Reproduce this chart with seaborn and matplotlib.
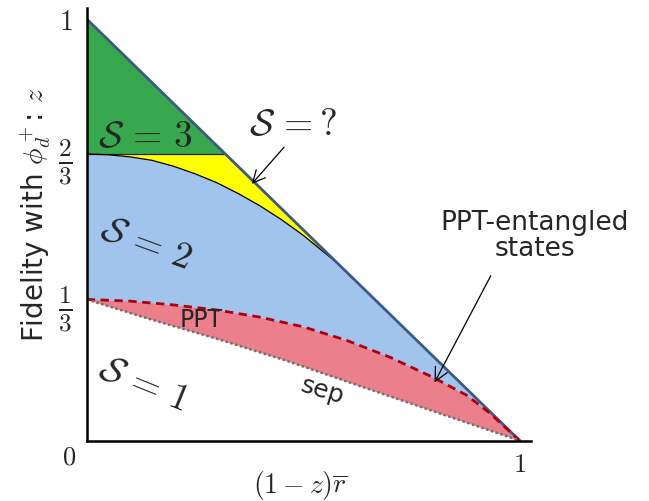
import numpy as np
import matplotlib.pyplot as plt
import seaborn as sns

# boundaries (x = (1-z)*rbar, z = fidelity)
diag_x = [0.0, 1.0]
diag_z = [1.0, 0.0]
s3_level = 0.68

s2_x = [0.0, 0.05, 0.1, 0.15, 0.2, 0.25, 0.3, 0.35, 0.4, 0.45, 0.5, 0.55, 0.578, 1.0]
s2_z = [0.68, 0.678, 0.673, 0.665, 0.651, 0.633, 0.612, 0.586, 0.557, 0.524, 0.487, 0.445, 0.422, 0.0]

ppt_x = [0.0, 0.1, 0.2, 0.3, 0.4, 0.5, 0.6, 0.7, 0.8, 0.877, 0.93, 0.97, 1.0]
ppt_z = [0.335, 0.331, 0.322, 0.31, 0.293, 0.27, 0.238, 0.198, 0.15, 0.108, 0.066, 0.028, 0.0]

sep_x = [0.0, 0.15, 0.3, 0.46, 0.63, 0.8, 1.0]
sep_z = [0.335, 0.287, 0.242, 0.19, 0.13, 0.07, 0.0]

ytick_pos = [1/3, s3_level, 1.0]
ytick_lab = [r'$\frac{1}{3}$', r'$\frac{2}{3}$', r'$1$']

sns.set_style('white')
plt.rcParams['font.family'] = ['DejaVu Sans']
plt.rcParams['mathtext.fontset'] = 'cm'

fig = plt.figure(figsize=(6.49, 5.01), dpi=100)
ax = fig.add_axes([0.1336, 0.1204, 0.684, 0.8627])

# filled regions, painted back to front
ax.fill_between(diag_x, 0, diag_z, color='#ffff00', lw=0)
ax.fill_between(diag_x, s3_level, diag_z, where=[True, False], interpolate=True,
                color='#38a84e', lw=0)
ax.fill_between(s2_x, 0, s2_z, color='#a0c4ec', lw=0)
ax.fill_between(ppt_x, 0, ppt_z, color='#ec7f8c', lw=0)
ax.fill_between(sep_x, 0, sep_z, color='white', lw=0)

# boundary lines
ax.plot([0, 1 - s3_level], [s3_level, s3_level], color='#222222', lw=0.9)
sns.lineplot(x=s2_x[:-1], y=s2_z[:-1], ax=ax, color='black', lw=0.9, sort=False)
sns.lineplot(x=diag_x, y=diag_z, ax=ax, color='#3d5a80', lw=2, sort=False)
sns.lineplot(x=ppt_x, y=ppt_z, ax=ax, color='#b00010', lw=2, linestyle=(0, (3, 2)), sort=False)
sns.lineplot(x=sep_x, y=sep_z, ax=ax, color='#707070', lw=1.8, linestyle=(0, (1, 1)), sort=False)

ax.set_xlim(0, 1.025)
ax.set_ylim(0, 1.025)
for s in ['top', 'right']:
    ax.spines[s].set_visible(False)
for s in ['left', 'bottom']:
    ax.spines[s].set_linewidth(1.8)
    ax.spines[s].set_color('black')

ax.set_xticks([1.0])
ax.set_xticklabels([r'$1$'], fontsize=19)
ax.set_yticks(ytick_pos)
ax.set_yticklabels(ytick_lab, fontsize=20)
for lab in ax.get_yticklabels()[:2]:
    lab.set_fontsize(26)
ax.set_xticks(np.arange(0, 1.01, 0.2), minor=True)
ax.set_yticks(np.arange(0, 1.01, 0.2), minor=True)
ax.tick_params(which='major', length=0, pad=8)
ax.tick_params(axis='y', which='major', pad=10)
ax.tick_params(axis='x', which='minor', direction='in', length=5, width=1.3)
ax.tick_params(axis='y', which='minor', direction='out', length=7, width=1.3)
ax.text(-0.04, -0.04, r'$0$', fontsize=19, ha='center', va='center', clip_on=False)

ax.set_xlabel(r'$(1-z)\overline{r}$', fontsize=20)
ax.xaxis.set_label_coords(0.48, -0.065)
ax.set_ylabel(r'Fidelity with $\phi_d^+$: $z$', fontsize=20)
ax.yaxis.set_label_coords(-0.076, 0.522)

# region labels
ax.text(0.137, 0.72, r'$\mathcal{S}\,=\,3$', fontsize=27, ha='center', va='center')
ax.text(0.476, 0.748, r'$\mathcal{S}\,=?$', fontsize=27, ha='center', va='center')
ax.text(0.137, 0.466, r'$\mathcal{S}\,=\,2$', fontsize=27, ha='center', va='center', rotation=-20)
ax.text(0.13, 0.134, r'$\mathcal{S}\,=\,1$', fontsize=27, ha='center', va='center', rotation=-22)
ax.text(0.265, 0.286, 'PPT', fontsize=17, ha='center', va='center')
ax.text(0.543, 0.118, 'sep', fontsize=18, ha='center', va='center', rotation=-17)
ax.text(1.034, 0.485, 'PPT-entangled\nstates', fontsize=19, ha='center', va='center',
        linespacing=1.0, clip_on=False)

ax.annotate('', xy=(0.377, 0.604), xytext=(0.46, 0.701),
            arrowprops=dict(arrowstyle='->', color='black', lw=0.9, mutation_scale=22))
ax.annotate('', xy=(0.8, 0.132), xytext=(0.936, 0.397),
            arrowprops=dict(arrowstyle='->', color='black', lw=0.9, mutation_scale=24),
            annotation_clip=False)

fig.savefig('out.png', dpi=100)
